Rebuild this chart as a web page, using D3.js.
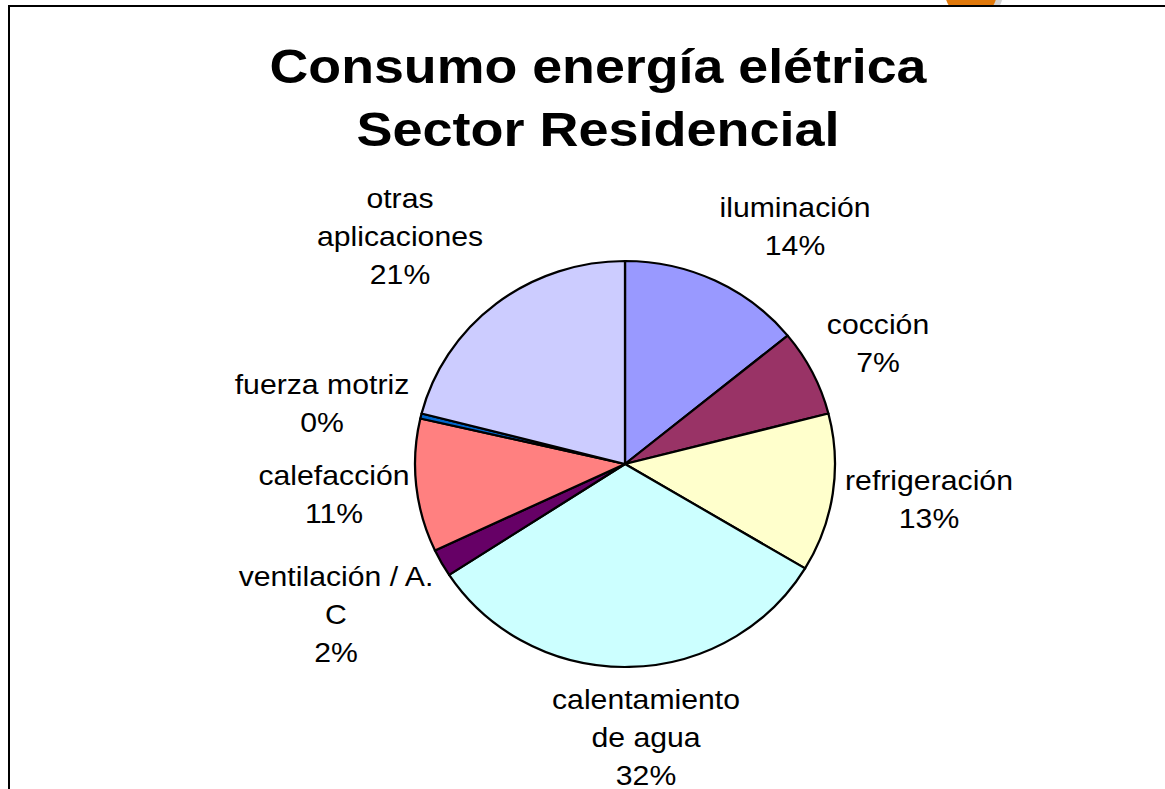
<!DOCTYPE html>
<html lang="es">
<head>
    <meta charset="UTF-8">
    <title>Consumo energía elétrica</title>
    <script src="https://d3js.org/d3.v7.min.js"></script>
    <style>
        body {margin: 0; background: white;}
        svg {display: block;}
        text {font-family: "Liberation Sans", Arial, sans-serif; fill: black;}
    </style>
</head>
<body>
<script>
    const width = 1165;
    const height = 789;

    // data
    const categories = ["iluminación", "cocción", "refrigeración", "calentamiento de agua",
        "ventilación / A. C", "calefacción", "fuerza motriz", "otras aplicaciones"];
    const values = [14.1, 6.9, 12.6, 32.2, 2.2, 10.6, 0.4, 21.0];
    const labelLines = [["iluminación"], ["cocción"], ["refrigeración"], ["calentamiento", "de agua"],
        ["ventilación / A.", "C"], ["calefacción"], ["fuerza motriz"], ["otras", "aplicaciones"]];
    const colors = ["#9999FF", "#993366", "#FFFFCC", "#CCFFFF", "#660066", "#FF8080", "#0066CC", "#CCCCFF"];
    // label anchor (centre of first line) relative to pie centre
    const labelPos = [[170, -257], [253, -140], [304, 16], [21, 235],
        [-289, 112], [-291, 11], [-303, -80], [-225, -266]];

    const cx = 625, cy = 464, r = 203;
    const stretch = 210 / 203; // pie is a little wider than tall

    const svg = d3.select("body").append("svg")
            .attr("width", width).attr("height", height);

    // slide decoration peeking above the chart frame
    svg.append("clipPath").attr("id", "topclip")
            .append("rect").attr("x", 0).attr("y", -60).attr("width", width).attr("height", 65);
    const deco = svg.append("g").attr("clip-path", "url(#topclip)");
    deco.append("circle").attr("cx", 977).attr("cy", -7).attr("r", 26).style("fill", "#d3d3d3");
    deco.append("circle").attr("cx", 971).attr("cy", -8).attr("r", 26).style("fill", "#E0780A");

    // frame
    svg.append("path")
            .attr("d", "M9,789 L9,6 L1165,6")
            .style("fill", "none").style("stroke", "black").style("stroke-width", 2);

    // title
    const title = svg.append("g").attr("class", "title");
    title.append("text").attr("x", 598).attr("y", 83)
            .attr("text-anchor", "middle")
            .attr("textLength", 657).attr("lengthAdjust", "spacingAndGlyphs")
            .style("font-size", "48px").style("font-weight", "bold")
            .text("Consumo energía elétrica");
    title.append("text").attr("x", 598).attr("y", 146)
            .attr("text-anchor", "middle")
            .attr("textLength", 483).attr("lengthAdjust", "spacingAndGlyphs")
            .style("font-size", "48px").style("font-weight", "bold")
            .text("Sector Residencial");

    const pie = d3.pie().sort(null).value(d => d);
    const arc = d3.arc().innerRadius(0).outerRadius(r);
    const arcs = pie(values);

    const g = svg.append("g").attr("transform", `translate(${cx},${cy})`);

    g.append("g").attr("transform", `scale(${stretch},1)`)
            .selectAll("path.slice")
            .data(arcs)
            .enter()
            .append("path")
            .attr("class", "slice")
            .attr("d", arc)
            .style("fill", (d, i) => colors[i])
            .style("stroke", "black")
            .style("stroke-width", 2.2)
            .style("stroke-linejoin", "round");

    // labels: name lines + rounded percentage
    const total = d3.sum(values);
    const lineH = 38;
    const labels = g.selectAll("g.label")
            .data(arcs)
            .enter()
            .append("g")
            .attr("class", "label")
            .attr("transform", (d, i) => `translate(${labelPos[i][0]},${labelPos[i][1]})`);

    labels.each(function(d, i) {
        const lines = labelLines[i].concat([Math.round(d.value / total * 100) + "%"]);
        const t = d3.select(this).append("text")
                .attr("text-anchor", "middle")
                .attr("transform", "scale(1.06,1)")
                .style("font-size", "28.5px");
        lines.forEach((s, k) => {
            t.append("tspan").attr("x", 0).attr("y", k * lineH + 10).text(s);
        });
    });
</script>
</body>
</html>
